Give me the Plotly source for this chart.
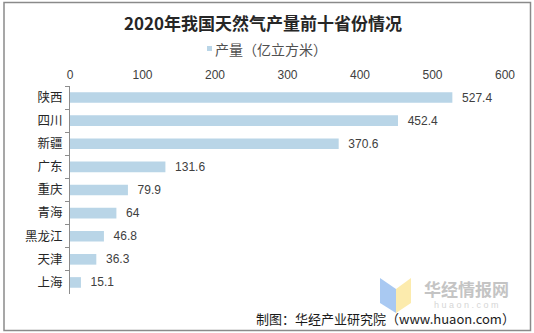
import plotly.graph_objects as go

provinces = ["陕西", "四川", "新疆", "广东", "重庆", "青海", "黑龙江", "天津", "上海"]
output = [527.4, 452.4, 370.6, 131.6, 79.9, 64, 46.8, 36.3, 15.1]
value_labels = ["527.4", "452.4", "370.6", "131.6", "79.9", "64", "46.8", "36.3", "15.1"]
x_ticks = [0, 100, 200, 300, 400, 500, 600]

W, H = 534, 333
L, R, T, B = 70, 29, 86, 39
PW, PH = W - L - R, H - T - B

def px(x):
    return (x - L) / PW

def py(y):
    return 1 - (y - T) / PH

fig = go.Figure()
fig.add_trace(go.Bar(
    y=provinces, x=output, orientation="h",
    marker=dict(color="#b9d5e7", line=dict(width=0)),
    text=["  " + v for v in value_labels], textposition="outside",
    constraintext="none",
    textfont=dict(family="Arial, Liberation Sans", size=12, color="#404040"),
    cliponaxis=False, showlegend=False, hoverinfo="skip",
))

shapes = [
    # outer frame
    dict(type="rect", xref="paper", yref="paper",
         x0=px(4), x1=px(530.5), y0=py(2.5), y1=py(330.5),
         line=dict(color="#8a8a8a", width=1.5), fillcolor="rgba(0,0,0,0)", layer="below"),
    # legend swatch
    dict(type="rect", xref="paper", yref="paper",
         x0=px(207), x1=px(212), y0=py(46), y1=py(51),
         line=dict(width=0), fillcolor="#b9d5e7"),
    # watermark logo
    dict(type="path", xref="paper", yref="paper",
         path=f"M {px(380)},{py(278)} L {px(396)},{py(289)} L {px(396)},{py(313)} L {px(380)},{py(303)} Z",
         fillcolor="#a9c9f2", line=dict(width=0), layer="below"),
    dict(type="path", xref="paper", yref="paper",
         path=f"M {px(396)},{py(289)} L {px(411)},{py(278)} L {px(411)},{py(303)} L {px(396)},{py(313)} Z",
         fillcolor="#fcebad", line=dict(width=0), layer="below"),
]

annotations = [
    dict(text="<b>2020年我国天然气产量前十省份情况</b>", xref="paper", yref="paper",
         x=px(263), y=py(22), xanchor="center", yanchor="middle", showarrow=False,
         font=dict(family="Noto Sans CJK SC", size=17, color="#262626")),
    dict(text="产量（亿立方米）", xref="paper", yref="paper",
         x=px(213), y=py(48.5), xanchor="left", yanchor="middle", showarrow=False,
         font=dict(family="Noto Sans CJK SC", size=14, color="#505050")),
    dict(text="<b>华经情报网</b>", xref="paper", yref="paper",
         x=px(466), y=py(288), xanchor="center", yanchor="middle", showarrow=False,
         borderpad=0,
         font=dict(family="Noto Sans CJK SC", size=17, color="#c4c4c4")),
    dict(text="h u a o n . c o m", xref="paper", yref="paper",
         x=px(466), y=py(304.5), xanchor="center", yanchor="middle", showarrow=False,
         borderpad=0,
         font=dict(family="Arial, Liberation Sans", size=9, color="#d6d6d6")),
    dict(text="制图：华经产业研究院（www.huaon.com）", xref="paper", yref="paper",
         x=px(516), y=py(318.5), xanchor="right", yanchor="middle", showarrow=False,
         borderpad=0,
         font=dict(family="Noto Sans CJK SC", size=13, color="#1a1a1a")),
]

fig.update_layout(
    width=W, height=H,
    margin=dict(l=L, r=R, t=T, b=B),
    paper_bgcolor="white", plot_bgcolor="white",
    bargap=0.54,
    shapes=shapes, annotations=annotations,
    xaxis=dict(side="top", range=[0, 600], tickvals=x_ticks,
               showgrid=False, zeroline=False, showline=False, ticks="",
               ticklabelstandoff=4,
               tickfont=dict(family="Arial, Liberation Sans", size=12, color="#404040"),
               fixedrange=True),
    yaxis=dict(autorange="reversed", showgrid=False, zeroline=False,
               showline=True, linecolor="#8c8c8c", linewidth=1,
               ticks="outside", tickson="boundaries", ticklen=4, tickcolor="#8c8c8c",
               ticklabelstandoff=4,
               tickfont=dict(family="Noto Sans CJK SC", size=12.5, color="#262626"),
               fixedrange=True),
    font=dict(family="Noto Sans CJK SC"),
)

fig.write_html("out.html")
